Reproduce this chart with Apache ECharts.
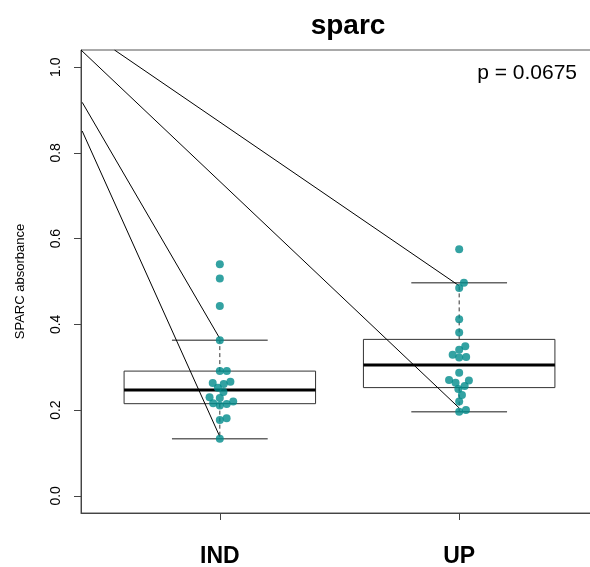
<!DOCTYPE html>
<html><head><meta charset="utf-8">
<script src="https://cdn.jsdelivr.net/npm/echarts@6/dist/echarts.min.js"></script>
<style>html,body{margin:0;padding:0;background:#fff}#c{width:590px;height:567px}</style>
</head><body><div id="c"></div>
<script>
// ---- data ----
const categories = ['IND', 'UP'];
const categoryPos = [1, 2];
const indValues = [0.540, 0.507, 0.443, 0.363, 0.291, 0.291, 0.266, 0.263, 0.252, 0.261,
                   0.242, 0.230, 0.228, 0.216, 0.211, 0.214, 0.220, 0.177, 0.181, 0.133];
const upValues  = [0.575, 0.497, 0.485, 0.412, 0.381, 0.349, 0.341, 0.329, 0.323, 0.324,
                   0.287, 0.269, 0.264, 0.270, 0.256, 0.249, 0.235, 0.220, 0.196, 0.200];
const yTicks = [0.0, 0.2, 0.4, 0.6, 0.8, 1.0];
// straight segments (data coords): start -> end
const segStartX = [0.425, 0.425, 0.42, 0.56];
const segStartY = [0.851, 0.918, 1.04, 1.04];
const segEndX   = [1, 1, 2, 2];
const segEndY   = [0.138, 0.367, 0.205, 0.490];
const titleText = 'sparc';
const yAxisTitle = 'SPARC absorbance';
const pValueText = 'p = 0.0675';

// ---- layout / style ----
const X_MIN = 0.42, X_MAX = 2.58, Y_MIN = -0.04, Y_MAX = 1.04;
const FONT = '"Liberation Sans", Arial, Helvetica, sans-serif';
const DOT = '#008B8B';
const DOT_SPACE = 7.0; // px spacing used by swarm layout

function boxStats(v) {
  const s = [...v].sort((a, b) => a - b), n = s.length;
  const n4 = Math.floor((n + 3) / 2) / 2;
  const d = [1, n4, (n + 1) / 2, n + 1 - n4, n];
  const q = d.map(p => 0.5 * (s[Math.floor(p) - 1] + s[Math.ceil(p) - 1]));
  const iqr = q[3] - q[1];
  const lo = s.find(x => x >= q[1] - 1.5 * iqr);
  const hi = [...s].reverse().find(x => x <= q[3] + 1.5 * iqr);
  return [lo, q[1], q[2], q[3], hi];
}
const groups = [indValues, upValues];
const boxData = groups.map((g, i) => [categoryPos[i], ...boxStats(g)]);

const chart = echarts.init(document.getElementById('c'), null, {renderer: 'canvas'});

const segSeries = segStartX.map((_, i) => ({
  type: 'line', silent: true, symbol: 'none', animation: false, z: 3,
  data: [[segStartX[i], segStartY[i]], [segEndX[i], segEndY[i]]],
  lineStyle: {color: '#000', width: 1}
}));

const option = {
  animation: false,
  backgroundColor: '#fff',
  title: {
    text: titleText, left: 343, top: 7, textAlign: 'center',
    textStyle: {fontFamily: FONT, fontSize: 28, fontWeight: 'bold', color: '#000'}
  },
  graphic: [{
    type: 'text', right: 13, top: 63,
    style: {text: pValueText, font: '21px ' + FONT, fill: '#000'}
  }],
  grid: {left: 81, top: 50, right: -8, bottom: 54, show: true, borderColor: '#555', borderWidth: 1,
         containLabel: false, outerBoundsMode: 'none'},
  xAxis: {
    type: 'value', min: X_MIN, max: X_MAX,
    axisLine: {show: true, onZero: false, lineStyle: {color: '#444'}},
    axisTick: {show: true, customValues: categoryPos, length: 7, lineStyle: {color: '#444'}},
    axisLabel: {customValues: categoryPos, formatter: v => categories[categoryPos.indexOf(v)],
                fontFamily: FONT, fontSize: 23, fontWeight: 'bold', color: '#000', margin: 32},
    splitLine: {show: false}
  },
  yAxis: {
    type: 'value', min: Y_MIN, max: Y_MAX,
    axisLine: {show: true, lineStyle: {color: '#444'}},
    axisTick: {show: true, customValues: yTicks, length: 7, lineStyle: {color: '#444'}},
    axisLabel: {customValues: yTicks, formatter: v => v.toFixed(1), rotate: 90,
                fontFamily: FONT, fontSize: 14, color: '#000', margin: 18},
    splitLine: {show: false},
    name: yAxisTitle, nameLocation: 'middle', nameRotate: 90, nameGap: 54,
    nameTextStyle: {fontFamily: FONT, fontSize: 13, color: '#000'}
  },
  series: [
    {
      type: 'custom', silent: true, z: 2, data: boxData, clip: true,
      renderItem: function (params, api) {
        const x = api.value(0), lo = api.value(1), q1 = api.value(2), md = api.value(3),
              q3 = api.value(4), hi = api.value(5);
        const c = (xx, yy) => api.coord([xx, yy]);
        const a = c(x - 0.4, q3), b = c(x + 0.4, q1);
        const line = (p1, p2, style) => ({type: 'line', shape: {x1: p1[0], y1: p1[1], x2: p2[0], y2: p2[1]}, style});
        return {type: 'group', children: [
          line(c(x, q3), c(x, hi), {stroke: '#333', lineWidth: 1, lineDash: [4, 3]}),
          line(c(x, q1), c(x, lo), {stroke: '#333', lineWidth: 1, lineDash: [4, 3]}),
          line(c(x - 0.2, hi), c(x + 0.2, hi), {stroke: '#666', lineWidth: 1.5}),
          line(c(x - 0.2, lo), c(x + 0.2, lo), {stroke: '#666', lineWidth: 1.5}),
          {type: 'rect', shape: {x: a[0], y: a[1], width: b[0] - a[0], height: b[1] - a[1]},
           style: {fill: 'none', stroke: '#333', lineWidth: 1}},
          line(c(x - 0.4, md), c(x + 0.4, md), {stroke: '#000', lineWidth: 3})
        ]};
      }
    },
    ...segSeries
  ]
};
chart.setOption(option);

// ---- swarm layout (beeswarm "swarm" method, ascending priority) ----
function swarm(values, pos) {
  const p0 = chart.convertToPixel({gridIndex: 0}, [pos, 0]);
  const p1 = chart.convertToPixel({gridIndex: 0}, [pos + 1, 0]);
  const pxPerX = p1[0] - p0[0];
  const ys = values.map(v => chart.convertToPixel({gridIndex: 0}, [pos, v])[1]);
  const order = values.map((v, i) => i).sort((a, b) => values[a] - values[b] || a - b);
  const placed = [];
  const out = [];
  const d = DOT_SPACE;
  order.forEach(i => {
    const y = ys[i];
    const pot = placed.filter(p => Math.abs(p.y - y) < d);
    const cand = [0];
    pot.forEach(p => cand.push(p.x + Math.sqrt(d * d - (p.y - y) ** 2)));
    pot.forEach(p => cand.push(p.x - Math.sqrt(d * d - (p.y - y) ** 2)));
    const good = cand.filter(cx => pot.every(p => (cx - p.x) ** 2 + (p.y - y) ** 2 >= d * d - 1e-6));
    let best = good[0];
    good.forEach(g => { if (Math.abs(g) < Math.abs(best)) best = g; });
    placed.push({x: best, y});
    out.push([pos + best / pxPerX, values[i]]);
  });
  return out;
}
const dots = [];
groups.forEach((g, i) => swarm(g, categoryPos[i]).forEach(p => dots.push(p)));
chart.setOption({series: option.series.concat([{
  type: 'scatter', silent: true, z: 5, symbol: 'circle', symbolSize: 8,
  itemStyle: {color: DOT}, data: dots
}])});
</script></body></html>
